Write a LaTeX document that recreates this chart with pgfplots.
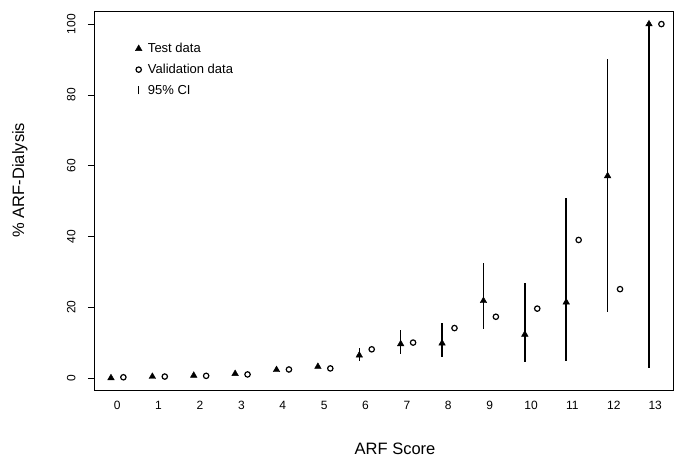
\documentclass[border=0pt]{standalone}
\usepackage{pgfplots}
\pgfplotsset{compat=1.18}
\usepackage{fontspec}
\setmainfont{Liberation Sans}

\begin{document}
\begin{tikzpicture}[x=1pt,y=1pt]
\useasboundingbox (0,0) rectangle (674,464);
\begin{axis}[
  at={(94pt,74pt)}, anchor=south west,
  scale only axis, width=579pt, height=379pt,
  xmin=-0.56, xmax=13.43, ymin=-3.4, ymax=103.7,
  xtick={0,1,...,13}, ytick={0,20,...,100},
  major x tick style={draw=none},
  ytick style={black, line width=0.6pt},
  tick align=outside, major tick length=6pt,
  axis line style={black, line width=0.8pt},
  ticklabel style={font=\fontsize{12}{14}\selectfont},
  /pgf/number format/assume math mode=true,
  xticklabel style={yshift=-2pt},
  yticklabel style={xshift=-9pt, rotate=90, anchor=south},
  xlabel={ARF Score}, ylabel={\% ARF-Dialysis},
  label style={font=\fontsize{16.5}{19}\selectfont},
  xlabel style={at={(axis description cs:0.52,-0.155)}, anchor=center},
  ylabel style={at={(axis description cs:-0.128,0.554)}, anchor=center, rotate=0},
  legend cell align=left,
  legend style={draw=none, fill=none, font=\fontsize{13}{15}\selectfont,
    at={(axis description cs:0.066,0.926)}, anchor=north west,
    row sep=6pt, /tikz/every odd column/.append style={column sep=4pt}},
]
% 95% CI (test data)
\addplot[forget plot, draw=none, mark=none,
  error bars/.cd, y dir=both, y explicit, error mark=none,
  error bar style={black, line width=1.5pt}]
  coordinates {
  (5.85,6.4) += (0,2.2) -= (0,1.6)
  (6.85,9.6) += (0,4.0) -= (0,2.9)
  (7.85,9.8) += (0,5.6) -= (0,3.8)
  (8.85,21.8) += (0,10.8) -= (0,8.0)
  (9.85,12.3) += (0,14.4) -= (0,7.9)
  (10.85,21.4) += (0,29.4) -= (0,16.6)
  (11.85,57.1) += (0,32.9) -= (0,38.4)
  (12.85,100) += (0,0) -= (0,97.1)
  };
% test data
\addplot[only marks, mark=triangle*, mark size=3.8pt, black]
  coordinates {
  (-0.15,0) (0.85,0.4) (1.85,0.7) (2.85,1.2) (3.85,2.3) (4.85,3.2)
  (5.85,6.4) (6.85,9.6) (7.85,9.8) (8.85,21.8) (9.85,12.3)
  (10.85,21.4) (11.85,57.1) (12.85,100)
  };
\addlegendentry{Test data}
% validation data
\addplot[only marks, mark=o, mark size=2.7pt, black, line width=1.2pt]
  coordinates {
  (0.15,0.2) (1.15,0.4) (2.15,0.6) (3.15,1.0) (4.15,2.4) (5.15,2.7)
  (6.15,8.1) (7.15,10.0) (8.15,14.1) (9.15,17.3) (10.15,19.6)
  (11.15,39.0) (12.15,25.1) (13.15,100)
  };
\addlegendentry{Validation data}
\addlegendimage{legend image code/.code={\draw[black, line width=1.2pt] (0.3cm,-0.14cm) -- (0.3cm,0.14cm);}}
\addlegendentry{95\% CI}
\end{axis}
\end{tikzpicture}
\end{document}
